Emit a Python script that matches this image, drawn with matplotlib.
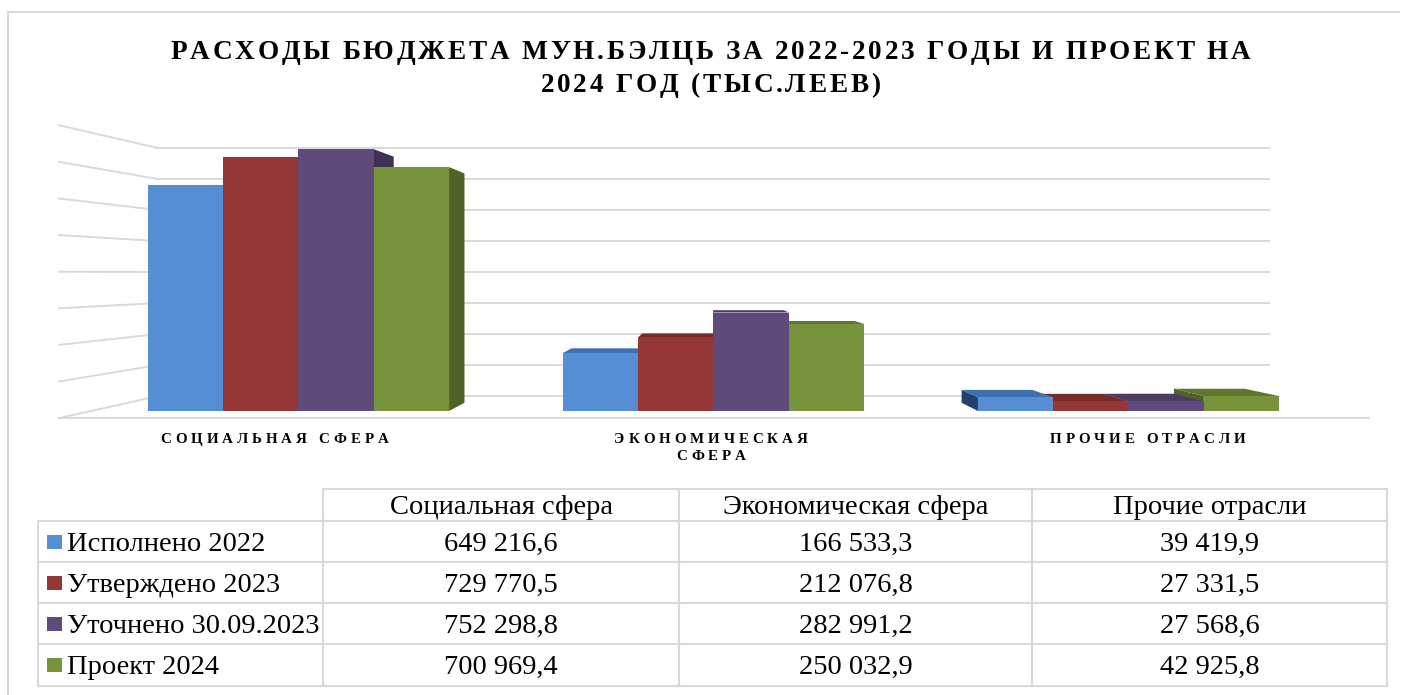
import matplotlib
matplotlib.use("Agg")
import matplotlib.pyplot as plt
from matplotlib.patches import Polygon, Rectangle
from matplotlib.font_manager import FontProperties
from matplotlib.lines import Line2D

# ---------------- data ----------------
categories = ["Социальная сфера", "Экономическая сфера", "Прочие отрасли"]
axis_labels = [["СОЦИАЛЬНАЯ СФЕРА"], ["ЭКОНОМИЧЕСКАЯ", "СФЕРА"], ["ПРОЧИЕ ОТРАСЛИ"]]
series_names = ["Исполнено 2022", "Утверждено 2023", "Уточнено 30.09.2023", "Проект 2024"]
ispolneno_2022 = [649216.6, 166533.3, 39419.9]
utverzhdeno_2023 = [729770.5, 212076.8, 27331.5]
utochneno_2023 = [752298.8, 282991.2, 27568.6]
proekt_2024 = [700969.4, 250032.9, 42925.8]
series_values = [ispolneno_2022, utverzhdeno_2023, utochneno_2023, proekt_2024]
grid_values = [0, 100000, 200000, 300000, 400000, 500000, 600000, 700000, 800000]
title_lines = ["РАСХОДЫ БЮДЖЕТА МУН.БЭЛЦЬ ЗА 2022-2023 ГОДЫ И ПРОЕКТ НА",
               "2024 ГОД (ТЫС.ЛЕЕВ)"]

# ---------------- styles ----------------
front_colors = ["#558ED5", "#953735", "#604A7B", "#77933C"]
top_colors = ["#3F6FAE", "#772C2A", "#4C3B62", "#5F7630"]
side_colors = ["#23406A", "#4F1D1C", "#3F3151", "#4F6228"]
grid_color = "#D9D9D9"
border_color = "#D9D9D9"

W, H = 1407, 695
fig = plt.figure(figsize=(W / 100, H / 100), dpi=100)
fig.patch.set_facecolor("white")

def fx(x):
    return x / W

def fy(y):
    return 1 - y / H

# ------------- 3D-like plot axes (front plane in data units) -------------
C0_PX, C_STEP_PX = 298.5, 415.0      # category 0 center & spacing in px
BASE_PX, UNITS_PER_PX = 411.0, 2873.6
box = (30, 95, 1395, 432)            # left, top, right, bottom px
ax = fig.add_axes([fx(box[0]), fy(box[3]), (box[2] - box[0]) / W, (box[3] - box[1]) / H])
ax.set_xlim((box[0] - C0_PX) / C_STEP_PX, (box[2] - C0_PX) / C_STEP_PX)
ax.set_ylim((BASE_PX - box[3]) * UNITS_PER_PX, (BASE_PX - box[1]) * UNITS_PER_PX)
ax.axis("off")

VPX = (706 - C0_PX) / C_STEP_PX
VPY = (BASE_PX - 274) * UNITS_PER_PX
S_WALL_FRONT, S_BAR_BACK, S_WALL_BACK = 1.052, 0.94, 0.894

def P(x, y, s):
    return (VPX + (x - VPX) * s, VPY + (y - VPY) * s)

x_left, x_right = -0.5, 2.5
# back wall and left wall gridlines
for v in grid_values:
    a = P(x_left, v, S_WALL_BACK)
    b = P(x_right, v, S_WALL_BACK)
    ax.add_line(Line2D([a[0], b[0]], [a[1], b[1]], color=grid_color, lw=1.4, zorder=1))
    c = P(x_left, v, S_WALL_FRONT)
    ax.add_line(Line2D([c[0], a[0]], [c[1], a[1]], color=grid_color, lw=1.4, zorder=1))
# floor front edge
a = P(x_left, 0, S_WALL_FRONT)
b = P(x_right, 0, S_WALL_FRONT)
ax.add_line(Line2D([a[0], b[0]], [a[1], b[1]], color=grid_color, lw=1.4, zorder=1))

# bars
n_series = len(series_values)
bw = 0.1814
bars = []
for ci in range(len(categories)):
    for si in range(n_series):
        x0 = ci + (si - n_series / 2) * bw
        bars.append((x0, x0 + bw, series_values[si][ci], si))
bars.sort(key=lambda b: -abs((b[0] + b[1]) / 2 - VPX))

z = 2
for x0, x1, v, si in bars:
    if x1 <= VPX:
        poly = [(x1, 0), (x1, v), P(x1, v, S_BAR_BACK), P(x1, 0, S_BAR_BACK)]
        ax.add_patch(Polygon(poly, closed=True, facecolor=side_colors[si], edgecolor="none", zorder=z))
    elif x0 >= VPX:
        poly = [(x0, 0), (x0, v), P(x0, v, S_BAR_BACK), P(x0, 0, S_BAR_BACK)]
        ax.add_patch(Polygon(poly, closed=True, facecolor=side_colors[si], edgecolor="none", zorder=z))
    if v < VPY:
        poly = [(x0, v), (x1, v), P(x1, v, S_BAR_BACK), P(x0, v, S_BAR_BACK)]
        ax.add_patch(Polygon(poly, closed=True, facecolor=top_colors[si], edgecolor="none", zorder=z + 0.1))
    ax.bar(x0, v, width=bw, align="edge", color=front_colors[si], edgecolor="none", zorder=z + 0.2)
    z += 1

# ---------------- text helpers ----------------
fig.canvas.draw()
renderer = fig.canvas.get_renderer()

def text_w(s, fp):
    return renderer.get_text_width_height_descent(s, fp, ismath=False)[0]

def char_w(c, fp):
    return text_w("|" + c + "|", fp) - text_w("||", fp)

def spacing_for(s, fp, target):
    ws = [char_w(c, fp) for c in s]
    return (target - sum(ws)) / (len(s) - 1)

def spaced_text(s, cx, baseline, fp, spacing, color="black"):
    ws = [char_w(c, fp) for c in s]
    total = sum(ws) + spacing * (len(s) - 1)
    x = cx - total / 2
    for c, w in zip(s, ws):
        if c != " ":
            fig.text(fx(x), fy(baseline), c, fontproperties=fp, ha="left", va="baseline", color=color)
        x += w + spacing

# ---------------- title ----------------
title_fp = FontProperties(family="Liberation Serif", weight="bold", size=19.6)
sp_title = spacing_for(title_lines[0], title_fp, 1080)
spaced_text(title_lines[0], 710.5, 59, title_fp, sp_title)
spaced_text(title_lines[1], 710.5, 92, title_fp, sp_title)

# ---------------- category labels ----------------
cat_fp = FontProperties(family="Liberation Serif", weight="bold", size=10.8)
sp_cat = spacing_for(axis_labels[0][0], cat_fp, 228)
for ci, lines in enumerate(axis_labels):
    xd, _ = P(ci, 0, S_WALL_FRONT)
    cx = C0_PX + xd * C_STEP_PX - 3
    for li, line in enumerate(lines):
        spaced_text(line, cx, 443 + li * 17, cat_fp, sp_cat)

# ---------------- data table ----------------
tab_fp = FontProperties(family="Liberation Serif", size=20.5)
col_x = [323, 679, 1032, 1387]
row_y = [489, 521, 562, 603, 644, 686]
label_left = 38
lw_t = 1.5

def hline(y, x0, x1):
    fig.add_artist(Line2D([fx(x0), fx(x1)], [fy(y), fy(y)], color=border_color, lw=lw_t))

def vline(x, y0, y1):
    fig.add_artist(Line2D([fx(x), fx(x)], [fy(y0), fy(y1)], color=border_color, lw=lw_t))

hline(row_y[0], col_x[0], col_x[-1])
for y in row_y[1:]:
    hline(y, label_left, col_x[-1])
vline(label_left, row_y[1], row_y[-1])
for x in col_x:
    vline(x, row_y[0], row_y[-1])

CAP = 9.4
for ci, name in enumerate(categories):
    cx = (col_x[ci] + col_x[ci + 1]) / 2
    cy = (row_y[0] + row_y[1]) / 2
    fig.text(fx(cx), fy(cy + CAP), name, fontproperties=tab_fp, ha="center", va="baseline")

def fmt(v):
    s = f"{v:,.1f}".replace(",", " ").replace(".", ",")
    return s

for si, name in enumerate(series_names):
    cy = (row_y[si + 1] + row_y[si + 2]) / 2
    fig.add_artist(Rectangle((fx(47), fy(cy + 7)), 15 / W, 14 / H,
                             facecolor=front_colors[si], edgecolor="none"))
    fig.text(fx(67), fy(cy + CAP), name, fontproperties=tab_fp, ha="left", va="baseline")
    for ci in range(len(categories)):
        cx = (col_x[ci] + col_x[ci + 1]) / 2
        fig.text(fx(cx), fy(cy + CAP), fmt(series_values[si][ci]), fontproperties=tab_fp,
                 ha="center", va="baseline")

# ---------------- outer frame ----------------
fig.add_artist(Line2D([fx(8), fx(8)], [fy(12), fy(695)], color=border_color, lw=1.5))
fig.add_artist(Line2D([fx(8), fx(1399)], [fy(12), fy(12)], color=border_color, lw=1.5))

fig.savefig("out.png", dpi=100, facecolor="white")
